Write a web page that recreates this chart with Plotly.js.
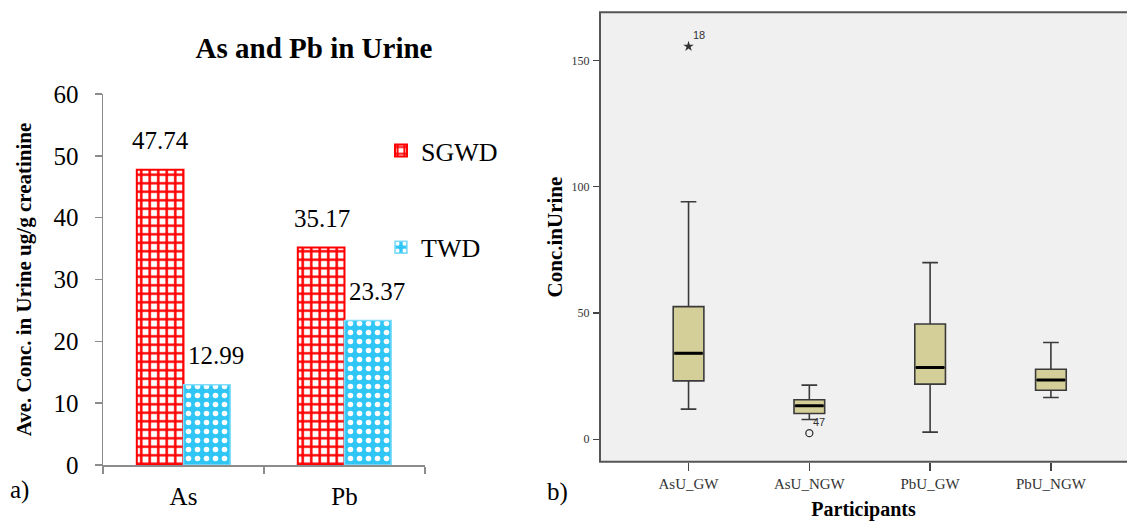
<!DOCTYPE html>
<html>
<head>
<meta charset="utf-8">
<script src="https://cdn.plot.ly/plotly-3.0.1.min.js"></script>
<style>html,body{margin:0;padding:0;background:#fff;}#chart{width:1127px;height:521px;}</style>
</head>
<body>
<div id="chart"></div>
<script>
// ---- Panel a) data ----
const barCategories = ["As", "Pb"];
const sgwdValues = [47.74, 35.17];
const twdValues = [12.99, 23.37];
const barSeriesNames = ["SGWD", "TWD"];

// ---- Panel b) data (box statistics) ----
const boxCategories = ["AsU_GW", "AsU_NGW", "PbU_GW", "PbU_NGW"];
const boxLowerFence = [11.9, 7.8, 2.8, 16.5];
const boxQ1 = [23.1, 10.2, 21.8, 19.4];
const boxMedian = [34.0, 13.2, 28.4, 23.4];
const boxQ3 = [52.5, 15.6, 45.6, 27.7];
const boxUpperFence = [94.0, 21.4, 69.9, 38.3];
const extremeOutlier = {cat: 0, value: 155.5, label: "18"};
const mildOutlier = {cat: 1, value: 2.4, label: "47"};

const serif = "Liberation Serif, Times New Roman, serif";
const W = 1127, H = 521;
const px = v => v / W;
const py = v => 1 - v / H;

const traces = [];
traces.push({
  type: "bar", name: barSeriesNames[0], x: barCategories, y: sgwdValues,
  xaxis: "x", yaxis: "y", legendgroup: "g1",
  marker: {color: "#ffffff", line: {color: "#ff0000", width: 2},
           pattern: {shape: "+", fgcolor: "#ff0000", bgcolor: "#ffffff", size: 8.5, solidity: 0.5}},
  hoverinfo: "skip"
});
traces.push({
  type: "bar", name: barSeriesNames[1], x: barCategories, y: twdValues,
  xaxis: "x", yaxis: "y", legendgroup: "g2",
  marker: {color: "#33c8f7", line: {color: "#7fdcfa", width: 1.5},
           pattern: {shape: ".", fgcolor: "#ffffff", bgcolor: "#2fc6f6", size: 9, solidity: 0.3}},
  hoverinfo: "skip"
});

const boxWidth = 0.254;
const idx = boxCategories.map((c, i) => i);
traces.push({
  type: "box", x: idx, q1: boxQ1, median: boxMedian, q3: boxQ3,
  lowerfence: boxLowerFence, upperfence: boxUpperFence,
  xaxis: "x2", yaxis: "y2", showlegend: false, boxpoints: false,
  width: boxWidth, whiskerwidth: 0.51,
  fillcolor: "#d4cf98", line: {color: "#3a3a3a", width: 1.6},
  hoverinfo: "skip"
});
// thicker median lines derived from the median array
const mx = [], my = [];
boxMedian.forEach((m, i) => { mx.push(i - boxWidth / 2 + 0.01, i + boxWidth / 2 - 0.01, null); my.push(m, m, null); });
traces.push({type: "scatter", mode: "lines", x: mx, y: my, xaxis: "x2", yaxis: "y2",
  line: {color: "#000000", width: 3}, showlegend: false, hoverinfo: "skip"});
traces.push({type: "scatter", mode: "markers", x: [extremeOutlier.cat], y: [extremeOutlier.value],
  xaxis: "x2", yaxis: "y2", showlegend: false, hoverinfo: "skip",
  marker: {symbol: "star", size: 8, color: "#333333"}});
traces.push({type: "scatter", mode: "markers", x: [mildOutlier.cat], y: [mildOutlier.value],
  xaxis: "x2", yaxis: "y2", showlegend: false, hoverinfo: "skip",
  marker: {symbol: "circle-open", size: 7, color: "#333333", line: {width: 1.3}}});

const annotations = [];
barCategories.forEach((c, i) => {
  annotations.push({x: c, y: sgwdValues[i], xref: "x", yref: "y", text: sgwdValues[i].toFixed(2),
    showarrow: false, yanchor: "middle", xanchor: "center", yshift: 29, xshift: -23,
    font: {family: serif, size: 25, color: "#000"}});
  annotations.push({x: c, y: twdValues[i], xref: "x", yref: "y", text: twdValues[i].toFixed(2),
    showarrow: false, yanchor: "middle", xanchor: "center", yshift: 29, xshift: 32,
    font: {family: serif, size: 25, color: "#000"}});
});
[extremeOutlier, mildOutlier].forEach(o => {
  annotations.push({x: o.cat, y: o.value, xref: "x2", yref: "y2", text: o.label, showarrow: false,
    yanchor: "middle", xanchor: "center",
    xshift: 10, yshift: 11, font: {family: "Liberation Sans, Arial, sans-serif", size: 11, color: "#333"}});
});
annotations.push({x: px(19), y: py(490), xref: "paper", yref: "paper", text: "a)", showarrow: false,
  yanchor: "middle", xanchor: "center", font: {family: serif, size: 25, color: "#000"}});
annotations.push({x: px(557), y: py(492), xref: "paper", yref: "paper", text: "b)", showarrow: false,
  yanchor: "middle", xanchor: "center", font: {family: serif, size: 25, color: "#000"}});

const layout = {
  width: W, height: H,
  margin: {l: 0, r: 0, t: 0, b: 0},
  paper_bgcolor: "#ffffff", plot_bgcolor: "rgba(0,0,0,0)",
  title: {text: "<b>As and Pb in Urine</b>", x: px(314), xanchor: "center", y: py(48), yanchor: "middle",
          font: {family: serif, size: 29, color: "#000"}},
  barmode: "group", bargap: 0.42, bargroupgap: 0,
  showlegend: true,
  legend: {x: px(381), y: py(127), xanchor: "left", yanchor: "top", tracegroupgap: 60,
           font: {family: serif, size: 26, color: "#000"}, bgcolor: "rgba(0,0,0,0)", traceorder: "grouped"},
  xaxis: {domain: [px(103), px(425)], anchor: "y", showline: true, linecolor: "#8c8c8c", linewidth: 1.5,
          ticks: "outside", tickson: "boundaries", ticklen: 7, tickcolor: "#8c8c8c", tickwidth: 1.5,
          ticklabelstandoff: 8, tickfont: {family: serif, size: 25, color: "#000"}, showgrid: false, zeroline: false},
  yaxis: {domain: [py(465), py(94)], anchor: "x", range: [0, 60], dtick: 10, showline: true, linecolor: "#8c8c8c",
          linewidth: 1.5, ticks: "outside", ticklen: 7, tickcolor: "#8c8c8c", tickwidth: 1.5, ticklabelstandoff: 11,
          tickfont: {family: serif, size: 25, color: "#000"}, showgrid: false, zeroline: false,
          title: {text: "<b>Ave. Conc. in Urine ug/g creatinine</b>", standoff: 16, font: {family: serif, size: 21, color: "#000"}}},
  xaxis2: {domain: [px(600), 1], anchor: "y2", range: [-0.733, 3.63], tickvals: idx, ticktext: boxCategories,
           showline: false, ticks: "outside", ticklen: 8, tickcolor: "#444", tickwidth: 1.5, ticklabelstandoff: 0,
           tickfont: {family: serif, size: 15, color: "#333"}, showgrid: false, zeroline: false,
           title: {text: "<b>Participants</b>", standoff: 14, font: {family: serif, size: 20, color: "#000"}}},
  yaxis2: {domain: [py(461.7), py(12.3)], anchor: "x2", range: [-8.9, 169], tickvals: [0, 50, 100, 150],
           showline: false, ticks: "outside", ticklen: 6, tickcolor: "#444", tickwidth: 1.2, ticklabelstandoff: 1,
           tickfont: {family: serif, size: 12, color: "#333"}, showgrid: false, zeroline: false,
           title: {text: "<b>Conc.inUrine</b>", standoff: 3, font: {family: serif, size: 21, color: "#000"}}},
  shapes: [
    {type: "rect", xref: "x2 domain", yref: "y2 domain", x0: 0, x1: 1.02, y0: 0, y1: 1, layer: "below",
     fillcolor: "#f0f0f0", line: {color: "#555555", width: 2}}
  ],
  annotations: annotations
};

Plotly.newPlot("chart", traces, layout, {displayModeBar: false, staticPlot: true});
</script>
</body>
</html>
